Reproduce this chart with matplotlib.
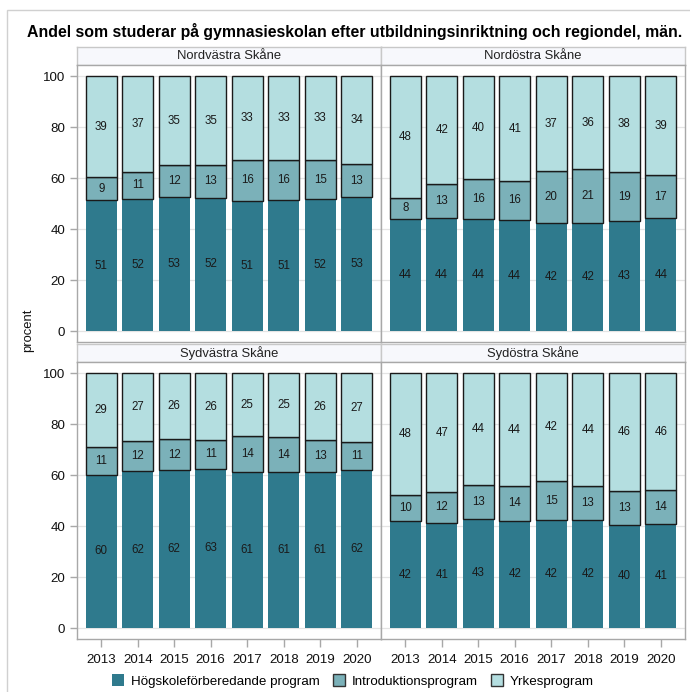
import matplotlib
matplotlib.use("Agg")
import matplotlib.pyplot as plt
from matplotlib.patches import Rectangle, Patch
import numpy as np

plt.rcParams['font.family'] = ['Liberation Sans', 'DejaVu Sans']

years = ["2013", "2014", "2015", "2016", "2017", "2018", "2019", "2020"]
series_names = ["Högskoleförberedande program", "Introduktionsprogram", "Yrkesprogram"]
regions = ["Nordvästra Skåne", "Nordöstra Skåne", "Sydvästra Skåne", "Sydöstra Skåne"]

# Nordvästra Skåne
nv_hog = [51.3, 52.0, 52.8, 52.4, 51.2, 51.3, 51.8, 52.5]
nv_intro = [9.2, 10.6, 12.4, 12.8, 15.9, 15.9, 15.2, 13.1]
nv_yrke = [39.5, 37.4, 34.8, 34.8, 32.9, 32.8, 33.0, 34.4]
# Nordöstra Skåne
no_hog = [44.2, 44.3, 44.1, 43.6, 42.4, 42.4, 43.1, 44.3]
no_intro = [7.9, 13.4, 15.8, 15.5, 20.3, 21.2, 19.2, 16.9]
no_yrke = [47.9, 42.3, 40.1, 40.9, 37.3, 36.4, 37.7, 38.8]
# Sydvästra Skåne
sv_hog = [60.2, 61.6, 62.1, 62.6, 61.4, 61.2, 61.3, 62.0]
sv_intro = [11.1, 11.9, 12.1, 11.3, 14.1, 13.9, 12.6, 10.9]
sv_yrke = [28.7, 26.5, 25.8, 26.1, 24.5, 24.9, 26.1, 27.1]
# Sydöstra Skåne
so_hog = [42.0, 41.4, 43.0, 42.2, 42.3, 42.4, 40.5, 40.8]
so_intro = [10.2, 12.0, 13.2, 13.6, 15.3, 13.2, 13.5, 13.6]
so_yrke = [47.8, 46.6, 43.8, 44.2, 42.4, 44.4, 46.0, 45.6]

# displayed labels (as shown in the chart)
nv_lab = [[51, 52, 53, 52, 51, 51, 52, 53], [9, 11, 12, 13, 16, 16, 15, 13], [39, 37, 35, 35, 33, 33, 33, 34]]
no_lab = [[44, 44, 44, 44, 42, 42, 43, 44], [8, 13, 16, 16, 20, 21, 19, 17], [48, 42, 40, 41, 37, 36, 38, 39]]
sv_lab = [[60, 62, 62, 63, 61, 61, 61, 62], [11, 12, 12, 11, 14, 14, 13, 11], [29, 27, 26, 26, 25, 25, 26, 27]]
so_lab = [[42, 41, 43, 42, 42, 42, 40, 41], [10, 12, 13, 14, 15, 13, 13, 14], [48, 47, 44, 44, 42, 44, 46, 46]]

data = [
    ([nv_hog, nv_intro, nv_yrke], nv_lab),
    ([no_hog, no_intro, no_yrke], no_lab),
    ([sv_hog, sv_intro, sv_yrke], sv_lab),
    ([so_hog, so_intro, so_yrke], so_lab),
]

colors = ["#2F7A8D", "#7BB1B9", "#B4DEE0"]
edges = ["none", "#1a1a1a", "#1a1a1a"]
frame_col = "#A8A8A8"

W, H = 690, 692
fig = plt.figure(figsize=(W / 100, H / 100), dpi=100)

def px(x0, y0, x1, y1):
    return [x0 / W, 1 - y1 / H, (x1 - x0) / W, (y1 - y0) / H]

# outer frame
fig.add_artist(Rectangle((7 / W, -0.02), 1.05, 1 - 10 / H + 0.02, transform=fig.transFigure,
                         facecolor="none", edgecolor="#D0D0D0", lw=1.0))

fig.text(355 / W, 1 - 32 / H, "Andel som studerar på gymnasieskolan efter utbildningsinriktning och regiondel, män.",
         ha="center", va="center", fontsize=11.4, fontweight="bold", color="black")

col_x = [(77, 381), (381, 685)]
row_y = [((47, 65), (65, 342)), ((344, 362), (362, 639))]

x = np.arange(len(years))
for i, (vals, labs) in enumerate(data):
    r, c = divmod(i, 2)
    (sy0, sy1), (py0, py1) = row_y[r]
    cx0, cx1 = col_x[c]
    # strip
    sax = fig.add_axes(px(cx0, sy0, cx1, sy1))
    sax.set_facecolor("#F7F8FC")
    sax.set_xticks([]); sax.set_yticks([])
    for s in sax.spines.values():
        s.set_color("#C8C8C8"); s.set_linewidth(1.0)
    sax.text(0.5, 0.5, regions[i], ha="center", va="center", fontsize=9.4, color="#222222",
             transform=sax.transAxes)
    # plot
    ax = fig.add_axes(px(cx0, py0, cx1, py1))
    ax.set_xlim(-0.663, 7.663)
    ax.set_ylim(-4.3, 104.5)
    ax.set_yticks([0, 20, 40, 60, 80, 100])
    ax.grid(axis="y", color="#E4E4E4", lw=0.9, zorder=0)
    ax.set_axisbelow(True)
    bottom = np.zeros(len(years))
    for k in range(3):
        v = np.array(vals[k])
        ax.bar(x, v, bottom=bottom, width=0.85, color=colors[k], edgecolor=edges[k],
               linewidth=1.0, zorder=2)
        for j in range(len(years)):
            ax.text(x[j], bottom[j] + v[j] / 2, str(labs[k][j]), ha="center", va="center",
                    fontsize=8.3, color="#1a1a1a", zorder=3)
        bottom = bottom + v
    for s in ax.spines.values():
        s.set_color(frame_col); s.set_linewidth(1.0)
    ax.tick_params(axis="both", color=frame_col, length=5, width=1, labelsize=9.6, labelcolor="#111111")
    if c == 0:
        ax.set_yticklabels(["0", "20", "40", "60", "80", "100"])
    else:
        ax.tick_params(axis="y", left=False, labelleft=False)
    ax.set_xticks(x)
    if r == 1:
        ax.set_xticklabels(years)
        ax.tick_params(axis="x", length=6, pad=5)
    else:
        ax.tick_params(axis="x", bottom=False, labelbottom=False)

fig.text(28 / W, 1 - 330 / H, "procent", rotation=90, ha="center", va="center", fontsize=9.4, color="#111111")

handles = [Patch(facecolor=colors[k], edgecolor=("none" if k == 0 else "#333333"), linewidth=1.0)
           for k in range(3)]
fig.legend(handles, series_names, loc="center", bbox_to_anchor=(353 / W, 1 - 681 / H), ncol=3,
           frameon=False, fontsize=9.6, handlelength=0.9, handleheight=0.9, handletextpad=0.5,
           columnspacing=1.0, borderpad=0)

fig.savefig("out.png", dpi=100)
